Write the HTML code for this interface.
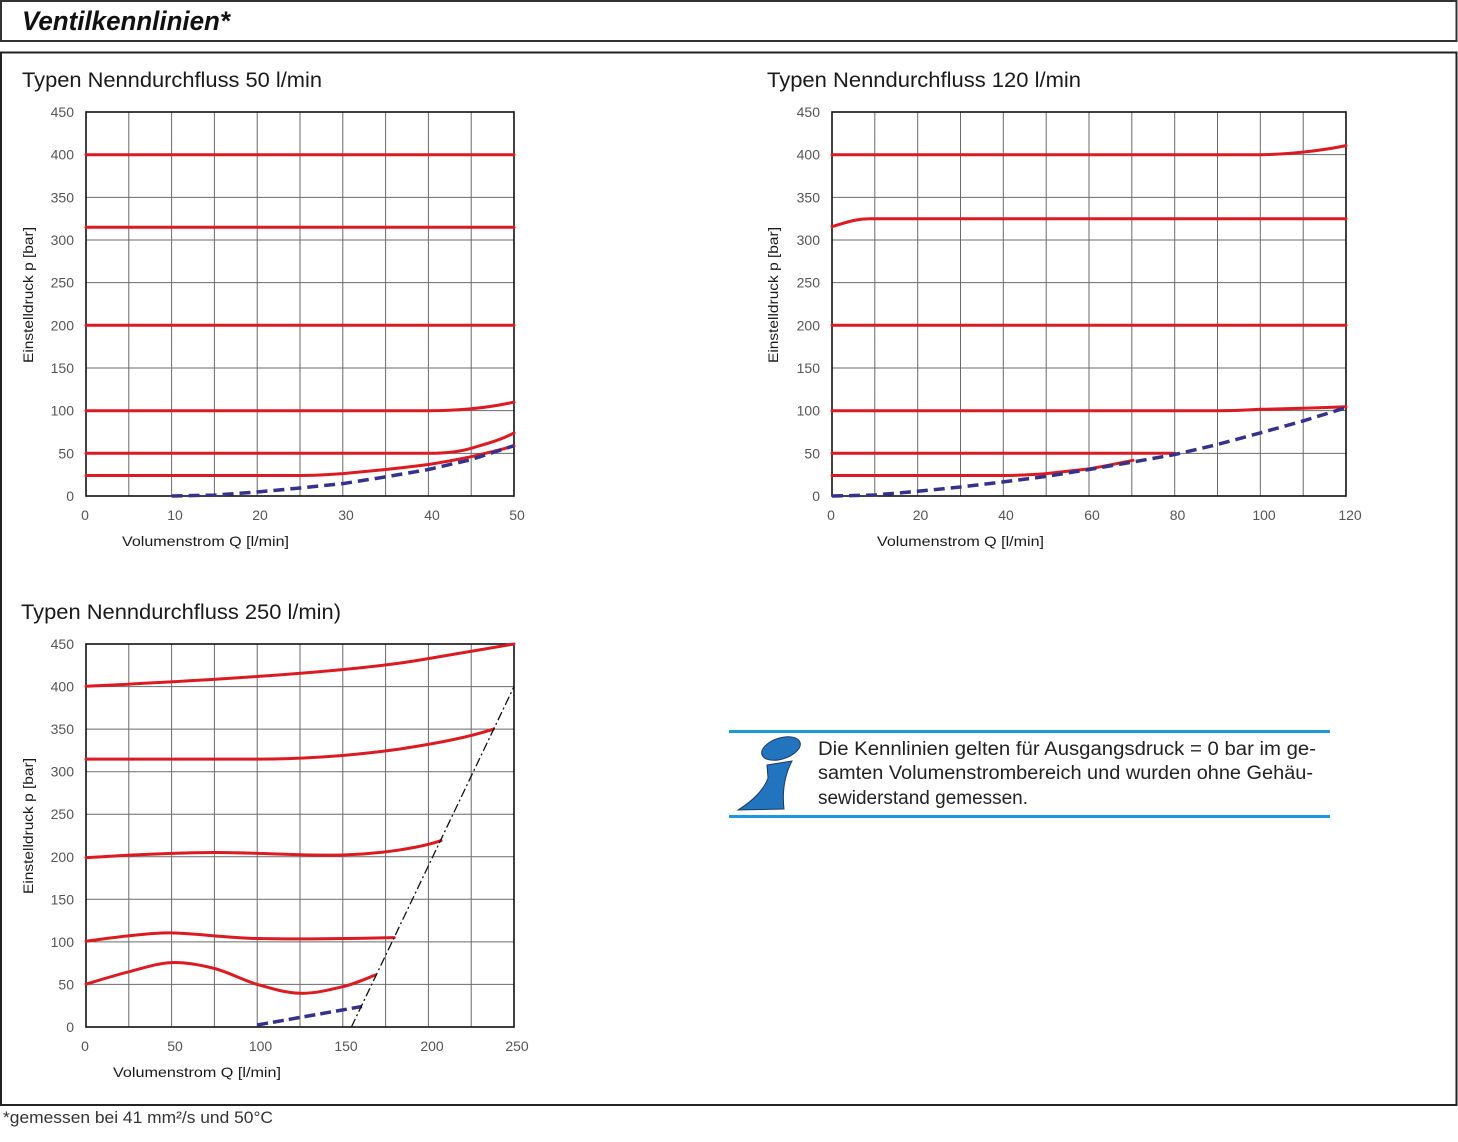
<!DOCTYPE html>
<html>
<head>
<meta charset="utf-8">
<style>
html,body{margin:0;padding:0;background:#fff;}
body{width:1458px;height:1142px;overflow:hidden;}
svg{display:block;}
</style>
</head>
<body>
<svg width="1458" height="1142" viewBox="0 0 1458 1142" xmlns="http://www.w3.org/2000/svg" font-family="'Liberation Sans', sans-serif">
<rect x="0" y="0" width="1458" height="1142" fill="#fff"/>

<!-- Header box -->
<rect x="1" y="1" width="1455.5" height="40" fill="none" stroke="#333" stroke-width="2"/>
<text x="22" y="30" font-size="27" font-weight="bold" font-style="italic" fill="#111" textLength="208" lengthAdjust="spacingAndGlyphs">Ventilkennlinien*</text>

<!-- Main box -->
<rect x="1" y="52.5" width="1455.5" height="1052.5" fill="none" stroke="#222" stroke-width="2"/>

<!-- ============ Chart 1 ============ -->
<text x="22" y="87" font-size="21" fill="#1a1a1a" textLength="300" lengthAdjust="spacingAndGlyphs">Typen Nenndurchfluss 50 l/min</text>
<path d="M128.8 112V496M171.6 112V496M214.4 112V496M257.2 112V496M300 112V496M342.8 112V496M385.6 112V496M428.4 112V496M471.2 112V496M86 154.67H514M86 197.33H514M86 240H514M86 282.67H514M86 325.33H514M86 368H514M86 410.67H514M86 453.33H514" stroke="#6a6a6a" stroke-width="1" fill="none"/>
<rect x="86" y="112" width="428" height="384" fill="none" stroke="#111" stroke-width="1.6"/>
<g font-size="14" fill="#555" text-anchor="end">
<text x="74" y="117">450</text><text x="74" y="159.7">400</text><text x="74" y="202.3">350</text><text x="74" y="245">300</text><text x="74" y="287.7">250</text><text x="74" y="330.3">200</text><text x="74" y="373">150</text><text x="74" y="415.7">100</text><text x="74" y="458.3">50</text><text x="74" y="501">0</text>
</g>
<g font-size="14" fill="#555" text-anchor="middle">
<text x="85" y="520">0</text><text x="175" y="520">10</text><text x="260" y="520">20</text><text x="346" y="520">30</text><text x="432" y="520">40</text><text x="517" y="520">50</text>
</g>
<text x="122" y="546" font-size="14" fill="#1a1a1a" textLength="167" lengthAdjust="spacingAndGlyphs">Volumenstrom Q [l/min]</text>
<text transform="translate(33,295) rotate(-90)" text-anchor="middle" font-size="14" fill="#1a1a1a" textLength="136" lengthAdjust="spacingAndGlyphs">Einstelldruck p [bar]</text>
<g fill="none" stroke="#dc1a22" stroke-width="3" stroke-linecap="round">
<path d="M86 154.7H514"/>
<path d="M86 227.2H514"/>
<path d="M86 325.3H514"/>
<path d="M86 410.7H428.4C455 410.7 485 408.5 514 402.1"/>
<path d="M86 453.3H428.4C450 453.3 462 451 471.2 448.3C485 444 500 440.5 514 432.9"/>
<path d="M86 475.5H300C320 475.5 330 474.5 342.8 473.6C360 472 375 470.5 385.6 469.5C400 468 415 466.2 428.4 464.5C445 462 460 459 471.2 456.7C490 452 505 449 514 445.7"/>
</g>
<polyline points="171.6,496 214.4,495.1 257.2,492 300,488 342.8,483.6 385.6,476.9 428.4,469.5 471.2,459.6 514,445.7" fill="none" stroke="#34328a" stroke-width="3.5" stroke-dasharray="11 6" stroke-linejoin="round"/>

<!-- ============ Chart 2 ============ -->
<text x="767" y="87" font-size="21" fill="#1a1a1a" textLength="314" lengthAdjust="spacingAndGlyphs">Typen Nenndurchfluss 120 l/min</text>
<path d="M874.8 112V496M917.7 112V496M960.5 112V496M1003.3 112V496M1046.2 112V496M1089 112V496M1131.8 112V496M1174.7 112V496M1217.5 112V496M1260.3 112V496M1303.2 112V496M832 154.67H1346M832 197.33H1346M832 240H1346M832 282.67H1346M832 325.33H1346M832 368H1346M832 410.67H1346M832 453.33H1346" stroke="#6a6a6a" stroke-width="1" fill="none"/>
<rect x="832" y="112" width="514" height="384" fill="none" stroke="#111" stroke-width="1.6"/>
<g font-size="14" fill="#555" text-anchor="end">
<text x="820" y="117">450</text><text x="820" y="159.7">400</text><text x="820" y="202.3">350</text><text x="820" y="245">300</text><text x="820" y="287.7">250</text><text x="820" y="330.3">200</text><text x="820" y="373">150</text><text x="820" y="415.7">100</text><text x="820" y="458.3">50</text><text x="820" y="501">0</text>
</g>
<g font-size="14" fill="#555" text-anchor="middle">
<text x="831" y="520">0</text><text x="920.5" y="520">20</text><text x="1006" y="520">40</text><text x="1092" y="520">60</text><text x="1177.5" y="520">80</text><text x="1264" y="520">100</text><text x="1350" y="520">120</text>
</g>
<text x="877" y="546" font-size="14" fill="#1a1a1a" textLength="167" lengthAdjust="spacingAndGlyphs">Volumenstrom Q [l/min]</text>
<text transform="translate(778,295) rotate(-90)" text-anchor="middle" font-size="14" fill="#1a1a1a" textLength="136" lengthAdjust="spacingAndGlyphs">Einstelldruck p [bar]</text>
<g fill="none" stroke="#dc1a22" stroke-width="3" stroke-linecap="round">
<path d="M832 154.7H1260.3C1285 154.5 1320 151 1346 145.6"/>
<path d="M832 226.6C845 223 855 218.7 870 218.7H1346"/>
<path d="M832 325.3H1346"/>
<path d="M832 410.7H1217.5C1240 410.7 1255 409.4 1260.3 409.3C1280 408.9 1300 408.5 1346 406.7"/>
<path d="M832 453.3H1174.7"/>
<path d="M832 475.5H1003.3C1020 475.5 1030 474.8 1046.2 473.6C1060 472 1075 470.5 1089 468.9C1105 466 1120 463 1133 460.3"/>
</g>
<polyline points="832,496 874.8,495 917.7,491.3 960.5,487 1003.3,481.9 1046.2,476.4 1089,469.5 1131.8,462.2 1174.7,454.5 1217.5,444.5 1260.3,432.9 1303.2,420.9 1346,407.7" fill="none" stroke="#34328a" stroke-width="3.5" stroke-dasharray="11 6" stroke-linejoin="round"/>

<!-- ============ Chart 3 ============ -->
<text x="21" y="619" font-size="21" fill="#1a1a1a" textLength="320" lengthAdjust="spacingAndGlyphs">Typen Nenndurchfluss 250 l/min)</text>
<path d="M128.8 644V1027M171.6 644V1027M214.4 644V1027M257.2 644V1027M300 644V1027M342.8 644V1027M385.6 644V1027M428.4 644V1027M471.2 644V1027M86 686.6H514M86 729.1H514M86 771.7H514M86 814.2H514M86 856.8H514M86 899.3H514M86 941.9H514M86 984.4H514" stroke="#6a6a6a" stroke-width="1" fill="none"/>
<rect x="86" y="644" width="428" height="383" fill="none" stroke="#111" stroke-width="1.6"/>
<g font-size="14" fill="#555" text-anchor="end">
<text x="74" y="649">450</text><text x="74" y="691.6">400</text><text x="74" y="734.1">350</text><text x="74" y="776.7">300</text><text x="74" y="819.2">250</text><text x="74" y="861.8">200</text><text x="74" y="904.3">150</text><text x="74" y="946.9">100</text><text x="74" y="989.4">50</text><text x="74" y="1032">0</text>
</g>
<g font-size="14" fill="#555" text-anchor="middle">
<text x="85" y="1051">0</text><text x="175" y="1051">50</text><text x="260.5" y="1051">100</text><text x="346" y="1051">150</text><text x="432" y="1051">200</text><text x="517" y="1051">250</text>
</g>
<text x="113" y="1077" font-size="14" fill="#1a1a1a" textLength="168" lengthAdjust="spacingAndGlyphs">Volumenstrom Q [l/min]</text>
<text transform="translate(33,826) rotate(-90)" text-anchor="middle" font-size="14" fill="#1a1a1a" textLength="136" lengthAdjust="spacingAndGlyphs">Einstelldruck p [bar]</text>
<g fill="none" stroke="#dc1a22" stroke-width="3" stroke-linecap="round">
<path d="M86 686.2C200 681 350 672 420 660C460 653 490 648 514 644"/>
<path d="M86 759.1H257.2C300 759.1 350 756 400 749C440 743 470 737 493.5 729.1"/>
<path d="M86 857.6C120 856 150 853 214.4 852.5C260 852.5 300 856 342.8 855C380 854 420 848 441.1 840.6"/>
<path d="M86 941.2C110 938 150 932.5 171.6 932.9C195 933.5 230 938 257.2 938.5C290 939.3 330 939 394.2 937.6"/>
<path d="M86 984.1C93.1 982.05 114.5 975.4 128.8 971.8C143.1 968.2 157.3 963.15 171.6 962.6C185.9 962.05 200.1 964.9 214.4 968.5C228.7 972.1 242.9 980.3 257.2 984.4C271.5 988.5 285.7 992.9 300 993.3C314.3 993.7 330.25 989.7 342.8 986.7C355.35 983.7 369.9 977 375.3 975.1"/>
</g>
<path d="M257.2 1025L362 1006.5" fill="none" stroke="#34328a" stroke-width="3.5" stroke-dasharray="11 5"/>
<path d="M351.4 1027L514 686.6" fill="none" stroke="#111" stroke-width="1.3" stroke-dasharray="9 3 2 3"/>

<!-- ============ Info box ============ -->
<path d="M729 731.5H1330M729 816.5H1330" stroke="#1b9ad7" stroke-width="3"/>
<ellipse cx="781" cy="748.5" rx="20" ry="10.5" transform="rotate(-18 781 748.5)" fill="#2174bd" stroke="#1b3a66" stroke-width="1"/>
<path d="M767 765L792 761Q781 782 784 809L738 810Q762 795 768 778Z" fill="#2174bd" stroke="#1b3a66" stroke-width="1"/>
<g font-size="19" fill="#222">
<text x="818" y="755" textLength="498" lengthAdjust="spacingAndGlyphs">Die Kennlinien gelten für Ausgangsdruck = 0 bar im ge-</text>
<text x="818" y="779" textLength="495" lengthAdjust="spacingAndGlyphs">samten Volumenstrombereich und wurden ohne Gehäu-</text>
<text x="818" y="804" textLength="210" lengthAdjust="spacingAndGlyphs">sewiderstand gemessen.</text>
</g>

<!-- Footer -->
<text x="3" y="1123" font-size="17" fill="#333" textLength="270" lengthAdjust="spacingAndGlyphs">*gemessen bei 41 mm²/s und 50°C</text>
</svg>
</body>
</html>
